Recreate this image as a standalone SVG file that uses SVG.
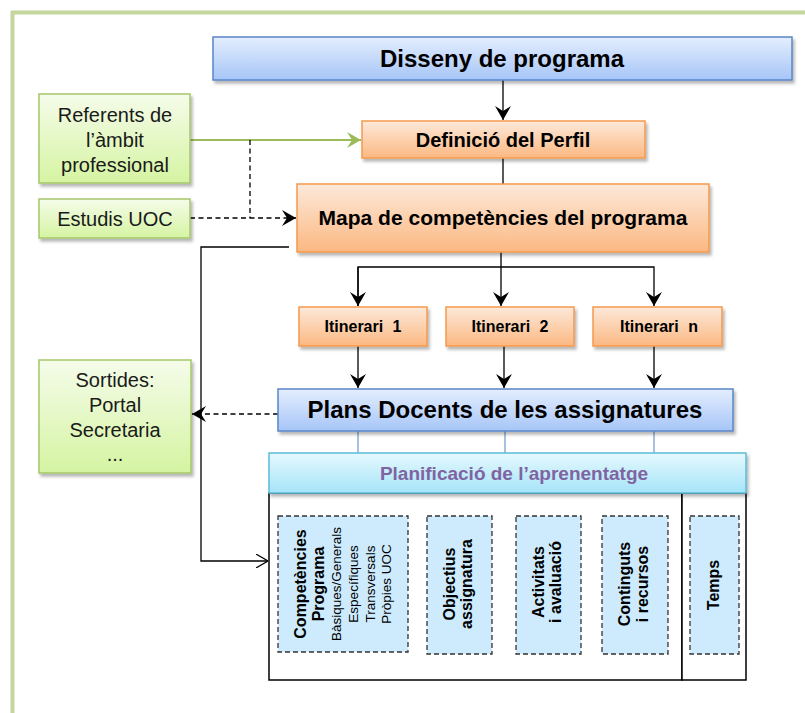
<svg xmlns="http://www.w3.org/2000/svg" width="805" height="713" viewBox="0 0 805 713">
<defs>
<linearGradient id="gBlue" x1="0" y1="0" x2="0" y2="1"><stop offset="0" stop-color="#e4eefe"/><stop offset="1" stop-color="#a6c5f7"/></linearGradient>
<linearGradient id="gOrange" x1="0" y1="0" x2="0" y2="1"><stop offset="0" stop-color="#fde9da"/><stop offset="1" stop-color="#fbb882"/></linearGradient>
<linearGradient id="gGreen" x1="0" y1="0" x2="0" y2="1"><stop offset="0" stop-color="#f5fcea"/><stop offset="1" stop-color="#d5f4a2"/></linearGradient>
<linearGradient id="gCyan" x1="0" y1="0" x2="0" y2="1"><stop offset="0" stop-color="#e6f9fe"/><stop offset="1" stop-color="#a5e4f8"/></linearGradient>
<filter id="sh" x="-10%" y="-20%" width="125%" height="150%"><feDropShadow dx="2" dy="3" stdDeviation="1.8" flood-color="#000" flood-opacity="0.28"/></filter>
<marker id="ah" viewBox="0 0 14 16" markerWidth="14" markerHeight="16" refX="14" refY="8" orient="auto" markerUnits="userSpaceOnUse"><path d="M0,0 L14,8 L0,16 L5,8 z" fill="#000"/></marker>
<marker id="ahG" viewBox="0 0 14 16" markerWidth="14" markerHeight="16" refX="14" refY="8" orient="auto" markerUnits="userSpaceOnUse"><path d="M0,0 L14,8 L0,16 L5,8 z" fill="#9bbb59"/></marker>
<marker id="ahO" viewBox="0 0 12 14" markerWidth="12" markerHeight="14" refX="12" refY="7" orient="auto" markerUnits="userSpaceOnUse"><path d="M0,0 L12,7 L0,14" fill="none" stroke="#000" stroke-width="1.2"/></marker>
</defs>
<style>
text{font-family:"Liberation Sans",Arial,sans-serif;}
.b{font-weight:bold;fill:#000;}
.blue{fill:url(#gBlue);stroke:#5a87c8;stroke-width:1.5;filter:url(#sh);}
.orange{fill:url(#gOrange);stroke:#f5994d;stroke-width:1.5;filter:url(#sh);}
.green{fill:url(#gGreen);stroke:#a5c76a;stroke-width:1.5;filter:url(#sh);}
.cyan{fill:url(#gCyan);stroke:#5bbcd8;stroke-width:1.5;filter:url(#sh);}
.dash{fill:#cdebfd;stroke:#333;stroke-width:1.3;stroke-dasharray:5,3;}
.lt{font-size:20px;fill:#1a1a1a;text-anchor:middle;}
.c{text-anchor:middle;}
.ln{fill:none;stroke:#000;stroke-width:1.3;}
.dl{fill:none;stroke:#000;stroke-width:1.3;stroke-dasharray:5,3.5;}
.bl{fill:none;stroke:#4f81bd;stroke-width:1;}
.v16{font-size:16px;font-weight:bold;text-anchor:middle;fill:#000;}
.v13{font-size:13.5px;text-anchor:middle;fill:#000;}
</style>
<rect x="0" y="0" width="805" height="713" fill="#fff"/>
<rect id="frame" x="12.5" y="12.5" width="800" height="710" fill="none" stroke="#c3d69b" stroke-width="4"/>

<g id="connectors">
<path class="ln" d="M503,80 V120" marker-end="url(#ah)"/>
<path class="ln" d="M503,158 V184"/>
<path d="M190,140 H361" fill="none" stroke="#9bbb59" stroke-width="2" marker-end="url(#ahG)"/>
<path class="dl" d="M250,140 V218"/>
<path class="dl" d="M190,218 H296" marker-end="url(#ah)"/>
<path class="ln" d="M501,252 V306" marker-end="url(#ah)"/>
<path class="ln" d="M358,306 V267 H654 V306" marker-end="url(#ah)"/>
<path class="ln" d="M358,267 V306" marker-end="url(#ah)"/>
<path class="ln" d="M358,346 V388" marker-end="url(#ah)"/>
<path class="ln" d="M504,346 V388" marker-end="url(#ah)"/>
<path class="ln" d="M654,346 V388" marker-end="url(#ah)"/>
<path class="bl" d="M358,431 V453 M505,431 V453 M654,431 V453"/>
<path class="dl" d="M278,414 H192" marker-end="url(#ah)"/>
<path class="ln" d="M289,247 H201 V561 H268" marker-end="url(#ahO)"/>
</g>

<g id="disseny">
<rect class="blue" x="213" y="37" width="579" height="43"/>
<text class="b c" x="502" y="67" font-size="24">Disseny de programa</text>
</g>
<g id="definicio">
<rect class="orange" x="362" y="121" width="283" height="37"/>
<text class="b c" x="503" y="147" font-size="20">Definició del Perfil</text>
</g>
<g id="mapa">
<rect class="orange" x="297" y="184" width="412" height="68"/>
<text class="b c" x="503" y="225" font-size="21">Mapa de competències del programa</text>
</g>
<g id="referents">
<rect class="green" x="39" y="94" width="151" height="89"/>
<text class="lt" x="115" y="122">Referents de</text>
<text class="lt" x="115" y="147">l’àmbit</text>
<text class="lt" x="115" y="172">professional</text>
</g>
<g id="estudis">
<rect class="green" x="39" y="199" width="151" height="39"/>
<text class="lt" x="115" y="226">Estudis UOC</text>
</g>
<g id="sortides">
<rect class="green" x="39" y="360" width="152" height="113"/>
<text class="lt" x="115" y="387">Sortides:</text>
<text class="lt" x="115" y="412">Portal</text>
<text class="lt" x="115" y="437">Secretaria</text>
<text class="lt" x="115" y="461">...</text>
</g>
<g id="itinerari1">
<rect class="orange" x="299" y="307" width="128" height="39"/>
<text class="b c" x="363" y="332" font-size="16" word-spacing="5">Itinerari 1</text>
</g>
<g id="itinerari2">
<rect class="orange" x="446" y="307" width="128" height="39"/>
<text class="b c" x="510" y="332" font-size="16" word-spacing="5">Itinerari 2</text>
</g>
<g id="itinerarin">
<rect class="orange" x="593" y="307" width="129" height="39"/>
<text class="b c" x="659" y="332" font-size="16" word-spacing="5">Itinerari n</text>
</g>
<g id="plans">
<rect class="blue" x="278" y="389" width="455" height="42"/>
<text class="b c" x="505" y="418" font-size="24">Plans Docents de les assignatures</text>
</g>
<g id="planificacio-area">
<rect x="269" y="493" width="413" height="187" fill="#fff" stroke="#000" stroke-width="1.5"/>
<rect x="682" y="493" width="64" height="187" fill="#fff" stroke="#000" stroke-width="1.5"/>
</g>
<g id="planificacio">
<rect class="cyan" x="269" y="453" width="477" height="40"/>
<text class="c" x="514" y="480" font-size="19" font-weight="bold" fill="#8064a2">Planificació de l’aprenentatge</text>
</g>
<g id="competencies">
<rect class="dash" x="278" y="516" width="130" height="136"/>
<text class="v16" transform="translate(306,584) rotate(-90)">Competències</text>
<text class="v16" transform="translate(324,584) rotate(-90)">Programa</text>
<text class="v13" transform="translate(341,584) rotate(-90)">Bàsiques/Generals</text>
<text class="v13" transform="translate(357.5,584) rotate(-90)">Específiques</text>
<text class="v13" transform="translate(375,584) rotate(-90)">Transversals</text>
<text class="v13" transform="translate(391,584) rotate(-90)">Pròpies UOC</text>
</g>
<g id="objectius">
<rect class="dash" x="427" y="516" width="65" height="138"/>
<text class="v16" transform="translate(455,584) rotate(-90)">Objectius</text>
<text class="v16" transform="translate(472,584) rotate(-90)">assignatura</text>
</g>
<g id="activitats">
<rect class="dash" x="516" y="516" width="65" height="138"/>
<text class="v16" transform="translate(544,582) rotate(-90)">Activitats</text>
<text class="v16" transform="translate(561,582) rotate(-90)">i avaluació</text>
</g>
<g id="continguts">
<rect class="dash" x="602" y="516" width="66" height="138"/>
<text class="v16" transform="translate(630,584) rotate(-90)">Continguts</text>
<text class="v16" transform="translate(648,584) rotate(-90)">i recursos</text>
</g>
<g id="temps">
<rect class="dash" x="690" y="516" width="49" height="138"/>
<text class="v16" transform="translate(719,585) rotate(-90)">Temps</text>
</g>
</svg>
